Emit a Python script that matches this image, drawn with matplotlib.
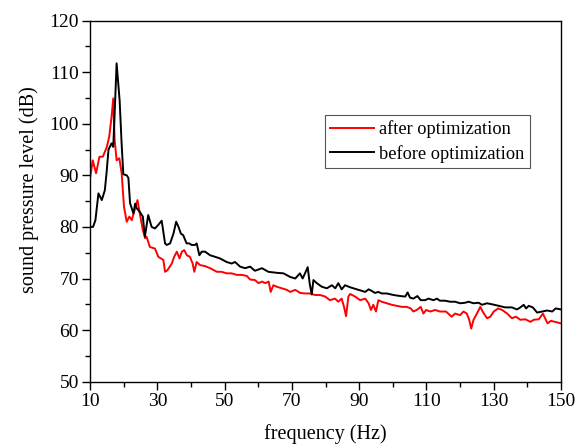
import numpy as np
import matplotlib
matplotlib.use("Agg")
import matplotlib.pyplot as plt

# after optimization (red)
freq_after = [10, 10.8, 11.8, 12.8, 13.8, 15.0, 15.7, 16.4, 16.9, 17.3, 17.9, 18.7, 19.4, 20.1,
              20.9, 21.7, 22.4, 23.4, 24.1, 24.8, 25.7, 26.4, 26.8, 27.8, 29.3, 30.3, 31.8,
              32.3, 33.0, 34.3, 35.0, 35.8, 36.6, 37.3, 38.0, 38.8, 39.7, 40.5, 41.0, 41.7,
              42.7, 44.2, 45.7, 47.7, 49.1, 50.6, 52.1, 53.6, 55.1, 56.6, 57.6, 59.0, 60.1,
              61.1, 62.1, 63.1, 63.7, 64.5, 65.5, 67.0, 68.5, 69.5, 71.0, 72.5, 73.9, 75.4,
              76.9, 78.4, 79.9, 81.3, 82.8, 83.8, 84.8, 85.5, 86.1, 86.8, 87.3, 88.8, 90.3,
              91.8, 92.8, 93.5, 94.2, 95.0, 95.7, 96.7, 98.2, 99.7, 101.2, 102.7, 104.2,
              105.3, 106.1, 107.1, 108.3, 109.1, 109.9, 111.1, 112.6, 114.0, 115.8, 116.5,
              117.5, 118.5, 120.0, 121.0, 122.0, 122.7, 123.3, 124.0, 125.0, 126.0, 126.7,
              128.0, 129.0, 130.0, 131.3, 132.5, 134.0, 135.4, 136.6, 137.9, 139.4, 140.9,
              141.9, 143.4, 144.6, 146.0, 147.0, 148.2, 150.0]
spl_after = [89.4, 92.9, 90.4, 93.6, 93.6, 95.5, 97.5, 101.3, 104.9, 97.0, 92.9, 93.3, 90.4, 83.9,
             81.0, 82.0, 81.3, 83.6, 85.2, 82.6, 79.4, 77.8, 78.1, 76.1, 75.8, 74.2, 73.6,
             71.3, 71.6, 72.9, 74.2, 75.2, 73.9, 75.2, 75.5, 74.5, 74.2, 72.9, 71.3, 73.2,
             72.6, 72.4, 72.0, 71.3, 71.3, 71.0, 71.0, 70.7, 70.7, 70.5, 69.8, 69.7, 69.1,
             69.4, 69.1, 69.4, 67.4, 68.7, 68.4, 68.1, 67.8, 67.4, 67.8, 67.2, 67.1, 67.1,
             66.8, 66.8, 66.5, 65.8, 66.1, 65.5, 66.1, 64.5, 62.7, 66.5, 67.0, 66.5, 65.8,
             66.1, 65.2, 63.9, 64.9, 63.6, 65.8, 65.5, 65.2, 64.9, 64.7, 64.5, 64.5,
             64.2, 63.6, 63.9, 64.5, 63.2, 63.9, 63.6, 63.9, 63.6, 63.6, 63.2,
             62.6, 63.2, 62.9, 63.6, 63.2, 62.0, 60.3, 62.0, 63.2, 64.5, 63.6,
             62.3, 62.6, 63.6, 64.2, 63.9, 63.2, 62.3, 62.6, 62.0, 62.1, 61.6,
             62.0, 62.1, 63.2, 61.3, 61.8, 61.6, 61.3]

# before optimization (black)
freq_before = [10, 10.9, 11.6, 12.5, 13.5, 14.4, 14.9, 15.5, 16.4, 16.9, 17.3, 17.9, 18.8, 19.4,
               19.9, 20.9, 21.4, 21.9, 22.9, 23.4, 23.9, 24.8, 25.7, 26.3, 27.3, 28.3, 29.3,
               30.3, 31.3, 32.3, 32.8, 33.8, 34.8, 35.6, 36.3, 37.0, 37.7, 38.7, 39.5, 40.2,
               41.2, 41.7, 42.5, 43.2, 44.2, 45.7, 47.2, 48.6, 50.6, 52.1, 53.1, 54.6, 56.1,
               57.6, 59.0, 60.3, 61.1, 63.0, 65.5, 67.5, 69.5, 71.0, 72.4, 73.2, 73.9, 74.7,
               75.3, 75.9, 76.4, 77.4, 78.9, 80.4, 81.9, 82.9, 83.8, 84.8, 85.8, 87.3, 89.3,
               90.8, 91.8, 92.8, 93.7, 94.7, 95.7, 96.7, 98.2, 100.2, 102.2, 103.7, 104.4,
               105.1, 106.1, 107.3, 108.3, 109.6, 110.6, 112.1, 113.1, 114.0, 115.5, 117.0,
               118.5, 120.0, 121.5, 122.5, 124.0, 125.5, 126.5, 128.0, 129.5, 131.5, 133.4,
               135.4, 136.9, 137.9, 138.9, 139.6, 140.4, 141.6, 142.9, 144.4, 145.9, 147.4,
               148.4, 150.0]
spl_before = [80.0, 80.0, 81.3, 86.5, 85.2, 87.1, 90.4, 95.0, 96.2, 95.5, 101.7, 111.7, 104.5, 96.0,
              90.2, 90.0, 89.5, 84.6, 82.6, 84.5, 83.6, 82.9, 82.0, 78.1, 82.3, 80.0, 79.7,
              80.4, 81.2, 76.8, 76.5, 76.8, 78.7, 81.0, 80.0, 78.7, 78.4, 76.8, 76.8, 76.5,
              76.5, 76.8, 74.5, 75.2, 75.2, 74.5, 74.2, 73.9, 73.2, 72.9, 73.2, 72.3, 72.0,
              72.3, 71.5, 71.8, 72.0, 71.3, 71.1, 71.0, 70.3, 70.0, 71.0, 70.0, 71.0, 72.2,
              69.0, 66.9, 69.7, 69.1, 68.4, 68.1, 68.7, 68.1, 69.1, 67.9, 68.7, 68.3, 67.9,
              67.6, 67.4, 67.9, 67.6, 67.2, 67.4, 67.1, 67.1, 66.8, 66.6, 66.5, 67.3,
              66.3, 66.1, 66.6, 65.8, 65.8, 66.1, 65.8, 66.1, 65.7, 65.7, 65.5,
              65.5, 65.2, 65.3, 65.5, 65.2, 65.3, 64.9, 65.2, 65.0, 64.7, 64.4,
              64.4, 64.0, 64.4, 64.9, 64.2, 64.7, 64.4, 63.4, 63.6, 63.8, 63.6,
              64.2, 64.0]

x_major = list(range(10, 151, 20))
x_minor = list(range(20, 141, 20))
y_major = list(range(50, 121, 10))
y_minor = list(range(55, 120, 10))

plt.rcParams['font.family'] = ['Liberation Serif', 'DejaVu Serif']

fig = plt.figure(figsize=(5.76, 4.47), dpi=100)
ax = fig.add_axes([0.1563, 0.1461, 0.8177, 0.808])

ax.plot(freq_after, spl_after, color='#ff0000', lw=1.4, label='after optimization')
ax.plot(freq_before, spl_before, color='black', lw=1.4, label='before optimization')

ax.set_xlim(10, 150)
ax.set_ylim(50, 120)
ax.set_xticks(x_major)
ax.set_xticks(x_minor, minor=True)
ax.set_yticks(y_major)
ax.set_yticks(y_minor, minor=True)
ax.tick_params(which='major', direction='out', length=6, width=1, labelsize=14, pad=2)
ax.tick_params(which='minor', direction='out', length=3.5, width=1)
for s in ax.spines.values():
    s.set_linewidth(1.0)

ax.set_xlabel('frequency (Hz)', fontsize=14.5, labelpad=10)
ax.set_ylabel('sound pressure level (dB)', fontsize=14.5)
ax.yaxis.set_label_coords(-0.108, 0.531)

leg = ax.legend(loc='upper left', bbox_to_anchor=(0.499, 0.738), fontsize=13.2,
                frameon=True, fancybox=False, edgecolor='#555555', framealpha=1,
                handlelength=2.4, handletextpad=0.28, borderpad=0.28, labelspacing=0.36,
                borderaxespad=0)
leg.get_frame().set_linewidth(0.8)

fig.savefig('out.png', dpi=100)
